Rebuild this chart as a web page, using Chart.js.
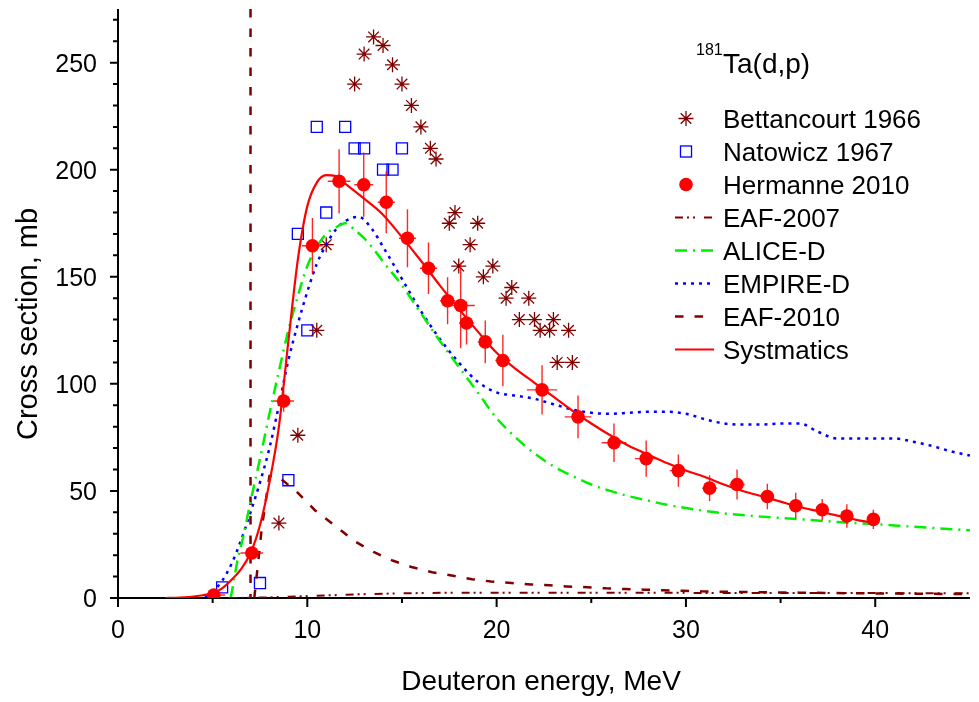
<!DOCTYPE html>
<html><head><meta charset="utf-8">
<script src="https://cdn.jsdelivr.net/npm/chart.js@4.4.1/dist/chart.umd.min.js"></script>
<style>html,body{margin:0;padding:0;background:#fff;}canvas{display:block;}</style>
</head><body>
<canvas id="c" width="979" height="702" style="width:979px;height:702px"></canvas>
<script>
// ---------- data ----------
const bettE  = [8.5, 9.5, 10.5, 11, 12.5, 13, 13.5, 14, 14.5, 15, 15.5, 16, 16.5, 16.8, 17.5, 17.8, 18, 18.6, 19, 19.3, 19.8, 20.5, 20.8, 21.2, 21.7, 22, 22.3, 22.8, 23, 23.2, 23.8, 24];
const bettXS = [35, 76, 125, 165, 240, 254, 262, 258, 249, 240, 230, 220, 210, 205, 175, 180, 155, 165, 175, 150, 155, 140, 145, 130, 140, 130, 125, 125, 130, 110, 125, 110];

const natE  = [5.5, 7.5, 9, 9.5, 10, 10.5, 11, 12, 12.5, 13, 14, 14.5, 15];
const natXS = [5, 7, 55, 170, 125, 220, 180, 220, 210, 210, 200, 200, 210];

const herE   = [5.06, 7.07, 8.75, 10.27, 11.68, 12.98, 14.17, 15.29, 16.4, 17.41, 18.1, 18.41, 19.4, 20.33, 22.4, 24.3, 26.2, 27.9, 29.6, 31.25, 32.7, 34.3, 35.8, 37.2, 38.5, 39.9];
const herXS  = [1.4, 21, 92, 164.5, 194.6, 193, 184.8, 168, 154, 138.8, 136.6, 128.4, 119.6, 110.9, 97.2, 84.6, 72.5, 65.1, 59.5, 51.3, 53, 47.4, 43.1, 41.2, 38.3, 36.7];
const herDE  = [0.6, 0.6, 0.55, 0.55, 0.6, 0.5, 0.45, 0.45, 0.45, 0.4, 0.75, 0.4, 0.4, 0.4, 0.8, 0.7, 0.65, 0.6, 0.45, 0.4, 0.4, 0.35, 0.35, 0.3, 0.3, 0.3];
const herDXS = [1, 2.5, 5, 13, 15, 15, 14.5, 13.5, 12, 11, 20, 10, 10, 12, 11.5, 10, 9, 8.5, 7.5, 6, 7, 6, 6, 5, 5.5, 4.5];

const eaf07E  = [5.9, 7, 8, 9, 10, 11, 12, 13, 14, 15, 17, 20, 25, 30, 35, 40, 45];
const eaf07XS = [0, 0.1, 0.3, 0.6, 0.9, 1.2, 1.5, 1.8, 2.0, 2.2, 2.4, 2.5, 2.5, 2.4, 2.3, 2.3, 2.2];

const aliceE  = [5.95, 6.1, 6.3, 6.6, 7, 7.5, 8, 8.5, 9, 9.5, 10, 10.5, 11, 11.5, 12, 12.5, 13, 13.5, 14, 15, 16, 17, 18, 19, 20, 21, 22, 23, 24, 25, 26, 27, 28, 29, 30, 32, 34, 36, 38, 40, 42, 45];
const aliceXS = [0, 7, 17, 28, 45, 65, 86, 106, 125, 141, 155, 164, 170, 173, 175, 172, 168, 163, 157, 146, 133, 120, 108, 96, 84, 75, 67.5, 61.5, 57, 53, 50, 47.5, 45.5, 43.5, 42, 39.5, 38, 36.8, 35.5, 34.5, 33.3, 31.6];

const empE  = [4.6, 5, 5.5, 6, 6.5, 7, 7.5, 8, 8.5, 9, 9.5, 10, 10.5, 11, 11.5, 12, 12.7, 13.4, 14, 15, 16, 17, 18, 19, 20, 21, 22, 23, 24, 25, 26, 27, 28, 29, 30, 31, 32, 33, 34, 35, 36, 37, 38, 39, 40, 41, 42, 43, 44, 45];
const empXS = [0.5, 3, 8, 16, 27, 40, 54, 70, 90, 111, 128, 143, 156, 165, 172, 176, 178, 172.5, 164, 149, 134, 121, 110, 101, 96, 94.5, 93, 90.5, 88, 86.5, 86, 86.5, 87, 87, 86, 83.5, 81.5, 81, 81, 81.5, 81.5, 77.5, 74.5, 74.5, 74.5, 74.5, 73, 71, 68.5, 66.5];

// EAF-2010: a vertical jump at 7 MeV, a gap (null), then the decreasing curve
const eaf10E  = [7, 7, 7.2, 7.2, 7.6, 8.0, 8.4, 9.4, 10.4, 11.5, 12.5, 13.5, 14.5, 15.5, 16.6, 17.7, 18.7, 19.7, 20.8, 21.8, 22.8, 23.7, 24.8, 25.8, 26.8, 27.8, 28.8, 29.9, 30.8, 33, 36, 39, 42, 45];
const eaf10XS = [275, 0, null, 0, 33, 57, 57, 50, 41, 33.5, 26.5, 21.5, 17.5, 14.5, 12, 10.4, 8.8, 7.7, 7, 6.3, 5.9, 5.4, 5, 4.5, 4.2, 3.9, 3.6, 3.4, 3.1, 2.8, 2.5, 2.2, 2.0, 1.8];

const systE  = [2.5, 3, 3.5, 4, 4.5, 5, 5.5, 6, 6.5, 7, 7.5, 8, 8.5, 9, 9.5, 10, 10.5, 11, 11.5, 12, 13, 14, 15, 16, 17, 18, 19, 20, 21, 22, 23, 24, 25, 26, 27, 28, 29, 30, 31, 32, 33, 34, 35, 36, 37, 38, 39, 40];
const systXS = [0, 0.1, 0.3, 0.7, 1.3, 2.3, 4.5, 8.5, 13.5, 21, 34, 54, 80, 120, 158, 183, 194, 197.5, 197, 193.5, 186.5, 179, 168.5, 157.5, 146, 135, 124.5, 114.5, 107, 100.5, 94, 87.5, 81.5, 76, 71, 67, 63, 59.5, 56.5, 53, 50, 47.5, 45, 42.5, 40.5, 38.5, 36.5, 35];

const xTicks = [0, 10, 20, 30, 40];
const xMinor = [5, 15, 25, 35];
const yTicks = [0, 50, 100, 150, 200, 250];
const yMinor = [10, 20, 30, 40, 60, 70, 80, 90, 110, 120, 130, 140, 160, 170, 180, 190, 210, 220, 230, 240, 260, 270];
const xTitle = 'Deuteron energy, MeV';
const yTitle = 'Cross section, mb';
const seriesNames = ['Bettancourt 1966', 'Natowicz 1967', 'Hermanne 2010', 'EAF-2007', 'ALICE-D', 'EMPIRE-D', 'EAF-2010', 'Systmatics'];

// ---------- chart ----------
const FONT = '"Liberation Sans", Arial, Helvetica, sans-serif';
const pts = (xs, ys) => xs.map((v, i) => ({x: v, y: ys[i]}));
const DARK = '#800000';
const STAR_R = 7.5, RECT_R = 7.8, DOT_R = 6.8;

const styles = [
  {kind: 'star', color: DARK},
  {kind: 'rect', color: '#0000ff'},
  {kind: 'circle', color: '#ff0000'},
  {kind: 'line', color: DARK, width: 2, dash: [8, 4, 2, 4, 2, 9]},
  {kind: 'line', color: '#00f000', width: 2.5, dash: [12, 6, 2, 6]},
  {kind: 'line', color: '#0000ff', width: 2.5, dash: [3, 5]},
  {kind: 'line', color: DARK, width: 2.5, dash: [8.5, 11]},
  {kind: 'line', color: '#ff0000', width: 2.2, dash: []}
];

const lineDs = (label, xs, ys, st, order, extra) => Object.assign({
  label, data: pts(xs, ys), showLine: true, pointRadius: 0, pointHoverRadius: 0,
  borderColor: st.color, backgroundColor: st.color, borderWidth: st.width, borderDash: st.dash,
  fill: false, spanGaps: false, order
}, extra || {});

const datasets = [
  {label: seriesNames[0], data: pts(bettE, bettXS), showLine: false, pointStyle: 'star', pointRadius: STAR_R,
   borderColor: DARK, backgroundColor: DARK, pointBorderWidth: 1.3, order: 4},
  {label: seriesNames[1], data: pts(natE, natXS), showLine: false, pointStyle: 'rect', pointRadius: RECT_R,
   borderColor: '#0000ff', backgroundColor: 'rgba(0,0,0,0)', pointBorderWidth: 1.3, order: 4},
  {label: seriesNames[2], data: pts(herE, herXS), showLine: false, pointStyle: 'circle', pointRadius: DOT_R,
   borderColor: '#ff0000', backgroundColor: '#ff0000', pointBorderWidth: 0, order: 0},
  lineDs(seriesNames[3], eaf07E, eaf07XS, styles[3], 3),
  lineDs(seriesNames[4], aliceE, aliceXS, styles[4], 3, {cubicInterpolationMode: 'monotone'}),
  lineDs(seriesNames[5], empE, empXS, styles[5], 3, {cubicInterpolationMode: 'monotone'}),
  lineDs(seriesNames[6], eaf10E, eaf10XS, styles[6], 3),
  lineDs(seriesNames[7], systE, systXS, styles[7], 1, {cubicInterpolationMode: 'monotone'})
];

function drawSymbol(ctx, kind, x, y, color) {
  ctx.save();
  ctx.strokeStyle = color; ctx.fillStyle = color;
  if (kind === 'star') {
    const r = STAR_R, d = r * Math.SQRT1_2;
    ctx.lineWidth = 1.3; ctx.beginPath();
    ctx.moveTo(x - r, y); ctx.lineTo(x + r, y);
    ctx.moveTo(x, y - r); ctx.lineTo(x, y + r);
    ctx.moveTo(x - d, y - d); ctx.lineTo(x + d, y + d);
    ctx.moveTo(x - d, y + d); ctx.lineTo(x + d, y - d);
    ctx.stroke();
  } else if (kind === 'rect') {
    const s = RECT_R * Math.SQRT1_2;
    ctx.lineWidth = 1.3; ctx.strokeRect(x - s, y - s, 2 * s, 2 * s);
  } else if (kind === 'circle') {
    ctx.beginPath(); ctx.arc(x, y, DOT_R, 0, Math.PI * 2); ctx.fill();
  }
  ctx.restore();
}

const decor = {
  id: 'decor',
  beforeDatasetsDraw(chart) {
    const {ctx, scales: {x, y}} = chart;
    const X = v => x.getPixelForValue(v), Y = v => y.getPixelForValue(v);
    const x0 = X(0), y0 = Y(0);
    ctx.save();
    ctx.strokeStyle = '#000'; ctx.lineWidth = 2; ctx.lineCap = 'butt';
    ctx.beginPath();
    ctx.moveTo(x0, Y(275)); ctx.lineTo(x0, y0 + 1);
    ctx.moveTo(x0 - 1, y0); ctx.lineTo(X(45), y0);
    yTicks.forEach(v => { ctx.moveTo(x0 - 8, Y(v)); ctx.lineTo(x0, Y(v)); });
    yMinor.forEach(v => { ctx.moveTo(x0 - 5, Y(v)); ctx.lineTo(x0, Y(v)); });
    xTicks.forEach(v => { ctx.moveTo(X(v), y0); ctx.lineTo(X(v), y0 + 9); });
    xMinor.forEach(v => { ctx.moveTo(X(v), y0); ctx.lineTo(X(v), y0 + 5); });
    ctx.stroke();

    ctx.fillStyle = '#000';
    ctx.font = '25px ' + FONT;
    ctx.textBaseline = 'alphabetic';
    ctx.textAlign = 'right';
    yTicks.forEach(v => ctx.fillText(String(v), 97, Y(v) + 9));
    ctx.textAlign = 'center';
    xTicks.forEach(v => ctx.fillText(String(v), X(v), 638));

    ctx.font = '28px ' + FONT;
    ctx.fillText(xTitle, 541, 690);
    ctx.font = '29px ' + FONT;
    ctx.save();
    ctx.translate(37, 324); ctx.rotate(-Math.PI / 2);
    ctx.fillText(yTitle, 0, 0);
    ctx.restore();
    ctx.restore();
  },
  beforeDatasetDraw(chart, args) {
    if (args.index !== 2) return;
    const {ctx, scales: {x, y}} = chart;
    ctx.save();
    ctx.strokeStyle = 'rgba(255,0,0,0.85)'; ctx.lineWidth = 1.4;
    ctx.beginPath();
    herE.forEach((e, i) => {
      const px = x.getPixelForValue(e), py = y.getPixelForValue(herXS[i]);
      ctx.moveTo(x.getPixelForValue(e - herDE[i]), py); ctx.lineTo(x.getPixelForValue(e + herDE[i]), py);
      ctx.moveTo(px, y.getPixelForValue(herXS[i] - herDXS[i])); ctx.lineTo(px, y.getPixelForValue(herXS[i] + herDXS[i]));
    });
    ctx.stroke();
    ctx.restore();
  },
  afterDraw(chart) {
    const ctx = chart.ctx;
    ctx.save();
    ctx.fillStyle = '#000';
    ctx.textBaseline = 'alphabetic'; ctx.textAlign = 'left';
    ctx.font = '16px ' + FONT;
    ctx.fillText('181', 696, 55);
    ctx.font = '28px ' + FONT;
    ctx.fillText('Ta(d,p)', 723, 73);

    ctx.font = '26px ' + FONT;
    const symX = 686, lx0 = 675, lx1 = 714, tx = 723;
    seriesNames.forEach((name, i) => {
      const cy = 118.5 + 33 * i;
      const st = styles[i];
      if (st.kind === 'line') {
        ctx.save();
        ctx.strokeStyle = st.color; ctx.lineWidth = st.width; ctx.setLineDash(st.dash);
        ctx.beginPath(); ctx.moveTo(lx0, cy); ctx.lineTo(lx1, cy); ctx.stroke();
        ctx.restore();
      } else {
        drawSymbol(ctx, st.kind, symX, cy, st.color);
      }
      ctx.fillText(name, tx, cy + 9);
    });
    ctx.restore();
  }
};

new Chart(document.getElementById('c'), {
  type: 'scatter',
  data: {datasets},
  options: {
    responsive: false, animation: false, devicePixelRatio: 1,
    events: [],
    layout: {padding: {top: 8, right: 3, left: 0, bottom: 0}},
    plugins: {legend: {display: false}, tooltip: {enabled: false}},
    scales: {
      x: {type: 'linear', min: 0, max: 45,
          grid: {display: false, drawTicks: false}, border: {display: false},
          ticks: {display: false}, afterFit(s) { s.height = 104; }},
      y: {type: 'linear', min: 0, max: 275,
          grid: {display: false, drawTicks: false}, border: {display: false},
          ticks: {display: false}, afterFit(s) { s.width = 118; }}
    }
  },
  plugins: [decor]
});
</script>
</body></html>
